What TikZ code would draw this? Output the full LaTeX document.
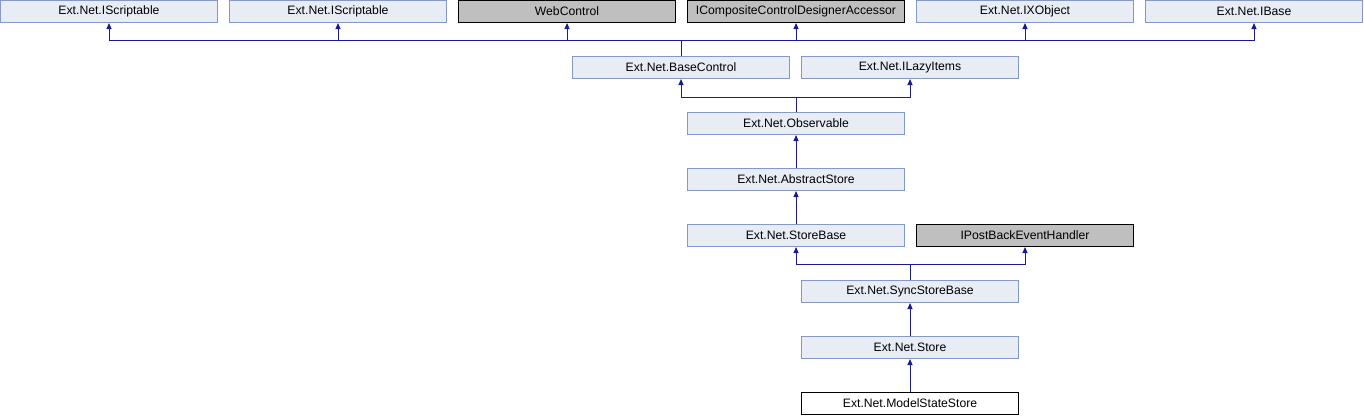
\documentclass[tikz,border=0pt]{standalone}
\usepackage{fontspec}
\setmainfont{Liberation Sans}
\usetikzlibrary{arrows.meta}
\definecolor{boxfill}{HTML}{E8ECF4}
\definecolor{boxline}{HTML}{8499C9}
\definecolor{grayfill}{HTML}{BFBFBF}
\definecolor{edge}{HTML}{1A1A96}
\begin{document}
\begin{tikzpicture}[x=1pt,y=-1pt,
  cls/.style={draw=boxline,fill=boxfill,line width=1pt,minimum width=217pt,minimum height=22pt,inner sep=0pt,font=\fontsize{12.2}{14}\selectfont},
  ext/.style={cls,draw=black,fill=grayfill},
  cur/.style={cls,draw=black,fill=white},
  arr/.style={draw=edge,line width=1pt,-{Triangle[length=6pt,width=5pt]}},
  ln/.style={draw=edge,line width=1pt}]
\useasboundingbox (0,0) rectangle (1364,416);
% row 1
\node[cls] (is1) at (109,11.5) {Ext.Net.IScriptable};
\node[cls] (is2) at (338,11.5) {Ext.Net.IScriptable};
\node[ext] (wc) at (567,11.5) {WebControl};
\node[ext] (icc) at (796,11.5) {ICompositeControlDesignerAccessor};
\node[cls] (ixo) at (1025,11.5) {Ext.Net.IXObject};
\node[cls] (ib) at (1254,11.5) {Ext.Net.IBase};
% row 2
\node[cls] (bc) at (681,67.5) {Ext.Net.BaseControl};
\node[cls] (ili) at (910,67.5) {Ext.Net.ILazyItems};
% rows
\node[cls] (obs) at (796,123.5) {Ext.Net.Observable};
\node[cls] (abs) at (796,179.5) {Ext.Net.AbstractStore};
\node[cls] (sb) at (796,235.5) {Ext.Net.StoreBase};
\node[ext] (ipb) at (1025,235.5) {IPostBackEventHandler};
\node[cls] (ssb) at (910,291.5) {Ext.Net.SyncStoreBase};
\node[cls] (st) at (910,347.5) {Ext.Net.Store};
\node[cur] (mss) at (910,403.5) {Ext.Net.ModelStateStore};
% bus coordinates
\coordinate (b1) at (681,40);
\coordinate (b2) at (796,97);
\coordinate (b5) at (910,264);
% edges BaseControl -> row 1
\draw[ln] (bc.north) -- (b1);
\foreach \p in {is1,is2,wc,icc,ixo,ib}{
  \draw[arr] (b1) -| (\p.south);
}
% Observable -> BaseControl, ILazyItems
\draw[ln] (obs.north) -- (b2);
\draw[arr] (b2) -| (bc.south);
\draw[arr] (b2) -| (ili.south);
% chain
\draw[arr] (abs.north) -- (obs.south);
\draw[arr] (sb.north) -- (abs.south);
\draw[ln] (ssb.north) -- (b5);
\draw[arr] (b5) -| (sb.south);
\draw[arr] (b5) -| (ipb.south);
\draw[arr] (st.north) -- (ssb.south);
\draw[arr] (mss.north) -- (st.south);
\end{tikzpicture}
\end{document}
